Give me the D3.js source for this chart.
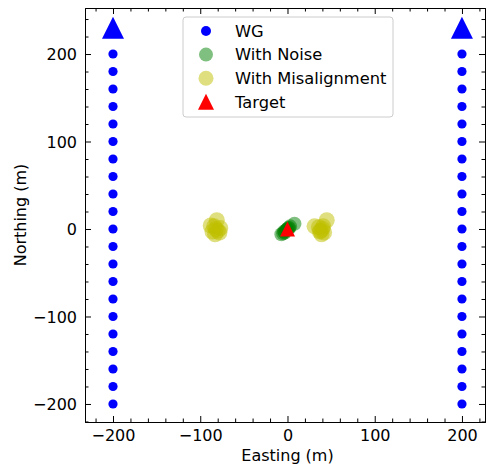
<!DOCTYPE html>
<html>
<head>
<meta charset="utf-8">
<script src="https://cdn.jsdelivr.net/npm/d3@7"></script>
<style>
  body { margin: 0; background: #fff; }
  svg text { font-family: "DejaVu Sans", sans-serif; }
</style>
</head>
<body>
<div id="chart"></div>
<script>
// wave glider track lines (easting fixed, northing listed)
const wgEastings = [-200, 200]
const wgNorthings = [200, 180, 160, 140, 120, 100, 80, 60, 40, 20, 0,
    -20, -40, -60, -80, -100, -120, -140, -160, -180, -200]

// fixes with added noise
const noiseEasting = [-7, -5, -4, -3, -2, -1, 0, 1, 2, 3, 8]
const noiseNorthing = [-6, -5, -3, -4, -2, -1, 0, 1, 1, 3, 6]

// fixes with misalignment, two clusters
const misEasting = [-82, -80, -84, -78, -83, -81, -88, -77, -86,
    38, 40, 36, 42, 39, 45, 31, 41, 37]
const misNorthing = [0, -2, 3, -4, -6, 10, 4, 1, -3,
    -2, 0, 2, -4, -6, 10, 3, 3, -3]

// beacon markers above the tracks and the target
const beaconEasting = [-200, 200]
const beaconNorthing = [230, 230]
const targetEasting = [0]
const targetNorthing = [0]

const xTicks = [-200, -100, 0, 100, 200]
const yTicks = [-200, -100, 0, 100, 200]
const minorTicks = [-220, -180, -160, -140, -120, -80, -60, -40, -20,
    20, 40, 60, 80, 120, 140, 160, 180, 220, 240]

const legendItems = [
    { label: "WG", shape: "dot" },
    { label: "With Noise", shape: "noise" },
    { label: "With Misalignment", shape: "mis" },
    { label: "Target", shape: "target" },
]

const dimensions = {
    width: 486,
    height: 473,
    margin: { top: 8, right: 1, bottom: 51, left: 85 },
}
dimensions.boundedWidth = dimensions.width - dimensions.margin.left - dimensions.margin.right
dimensions.boundedHeight = dimensions.height - dimensions.margin.top - dimensions.margin.bottom

const wrapper = d3.select("#chart")
    .append("svg")
    .attr("width", dimensions.width)
    .attr("height", dimensions.height)

const bounds = wrapper.append("g")
    .attr("transform", `translate(${dimensions.margin.left},${dimensions.margin.top})`)

const xScale = d3.scaleLinear()
    .domain([-232.1, 226.4])
    .range([0, dimensions.boundedWidth])
const yScale = d3.scaleLinear()
    .domain([-220.6, 252.6])
    .range([dimensions.boundedHeight, 0])

const fmt = d => d < 0 ? "\u2212" + Math.abs(d) : String(d)

// axes: ticks point inward on all four sides
const addAxis = (gen, transform, major, labels) => {
    const g = bounds.append("g")
        .attr("transform", transform)
        .call(gen.tickValues(major).tickSize(-6).tickPadding(labels ? 8 : 0)
            .tickFormat(labels ? fmt : ""))
    g.selectAll("text").style("font-size", "16px").attr("fill", "#000")
    g.select(".domain").attr("stroke", "#000").attr("stroke-width", 1)
    g.selectAll(".tick line").attr("stroke", "#000")
    return g
}
const addMinor = (gen, transform) => {
    const g = bounds.append("g")
        .attr("transform", transform)
        .call(gen.tickValues(minorTicks).tickSize(-3.5).tickFormat(""))
    g.select(".domain").remove()
    g.selectAll(".tick line").attr("stroke", "#000")
}

addMinor(d3.axisBottom(xScale), `translate(0,${dimensions.boundedHeight})`)
addMinor(d3.axisTop(xScale), "translate(0,0)")
addMinor(d3.axisLeft(yScale), "translate(0,0)")
addMinor(d3.axisRight(yScale), `translate(${dimensions.boundedWidth},0)`)
const xAxis = addAxis(d3.axisBottom(xScale), `translate(0,${dimensions.boundedHeight})`, xTicks, true)
addAxis(d3.axisTop(xScale), "translate(0,0)", xTicks, false)
const yAxis = addAxis(d3.axisLeft(yScale), "translate(0,0)", yTicks, true)
addAxis(d3.axisRight(yScale), `translate(${dimensions.boundedWidth},0)`, yTicks, false)
yAxis.selectAll("text").attr("dy", "0.36em")

const wgPoints = wgEastings.flatMap(e => wgNorthings.map(n => [e, n]))
const noisePoints = noiseEasting.map((e, i) => [e, noiseNorthing[i]])
const misPoints = misEasting.map((e, i) => [e, misNorthing[i]])
const beacons = beaconEasting.map((e, i) => [e, beaconNorthing[i]])
const targets = targetEasting.map((e, i) => [e, targetNorthing[i]])

const triangle = s => `M0,${-s / 2}L${s / 2},${s / 2}L${-s / 2},${s / 2}Z`

const plot = bounds.append("g")

plot.selectAll(".wg")
    .data(wgPoints)
  .enter().append("circle")
    .attr("cx", d => xScale(d[0]))
    .attr("cy", d => yScale(d[1]))
    .attr("r", 4.6)
    .attr("fill", "#0000ff")

plot.selectAll(".noise")
    .data(noisePoints)
  .enter().append("circle")
    .attr("cx", d => xScale(d[0]))
    .attr("cy", d => yScale(d[1]))
    .attr("r", 7)
    .attr("fill", "#008000")
    .attr("fill-opacity", 0.5)

plot.selectAll(".mis")
    .data(misPoints)
  .enter().append("circle")
    .attr("cx", d => xScale(d[0]))
    .attr("cy", d => yScale(d[1]))
    .attr("r", 8)
    .attr("fill", "#bfbf00")
    .attr("fill-opacity", 0.5)

plot.selectAll(".beacon")
    .data(beacons)
  .enter().append("path")
    .attr("transform", d => `translate(${xScale(d[0])},${yScale(d[1])})`)
    .attr("d", triangle(22))
    .attr("fill", "#0000ff")

plot.selectAll(".target")
    .data(targets)
  .enter().append("path")
    .attr("transform", d => `translate(${xScale(d[0])},${yScale(d[1])})`)
    .attr("d", triangle(15))
    .attr("fill", "#ff0000")

// axis labels
xAxis.append("text")
    .attr("x", xScale(0))
    .attr("y", 39)
    .attr("fill", "#000")
    .style("font-size", "16px")
    .style("text-anchor", "middle")
    .text("Easting (m)")

yAxis.append("text")
    .attr("transform", "rotate(-90)")
    .attr("x", -dimensions.boundedHeight / 2)
    .attr("y", -59)
    .attr("fill", "#000")
    .style("font-size", "16px")
    .style("text-anchor", "middle")
    .text("Northing (m)")

// legend
const legend = bounds.append("g")
    .attr("transform", "translate(98,9)")
legend.append("rect")
    .attr("width", 210)
    .attr("height", 100)
    .attr("rx", 3)
    .attr("fill", "#fff")
    .attr("fill-opacity", 0.8)
    .attr("stroke", "#cccccc")

const rows = legend.selectAll(".row")
    .data(legendItems)
  .enter().append("g")
    .attr("transform", (d, i) => `translate(0,${14 + i * 23.6})`)

rows.each(function (d) {
    const g = d3.select(this)
    if (d.shape === "dot") {
        g.append("circle").attr("cx", 23).attr("r", 5).attr("fill", "#0000ff")
    } else if (d.shape === "noise") {
        g.append("circle").attr("cx", 23).attr("r", 7).attr("fill", "#008000").attr("fill-opacity", 0.5)
    } else if (d.shape === "mis") {
        g.append("circle").attr("cx", 23).attr("r", 7.5).attr("fill", "#bfbf00").attr("fill-opacity", 0.5)
    } else {
        g.append("path").attr("transform", "translate(23,0)").attr("d", triangle(16)).attr("fill", "#ff0000")
    }
})
rows.append("text")
    .attr("x", 52)
    .attr("dy", "0.36em")
    .style("font-size", "16.3px")
    .attr("fill", "#000")
    .text(d => d.label)
</script>
</body>
</html>
